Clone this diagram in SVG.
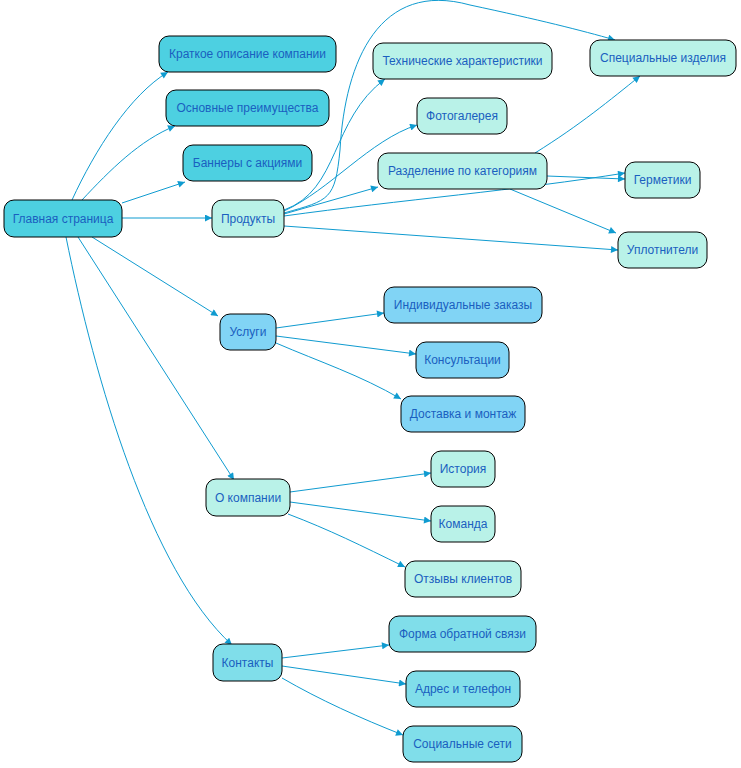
<svg xmlns="http://www.w3.org/2000/svg" width="741" height="768" viewBox="0 0 741 768">
<defs>
<style>
.n rect{stroke:#000;stroke-width:1}
.n text{font-family:"Liberation Sans",Arial,sans-serif;font-size:12px;fill:#1a5fc0;text-anchor:middle;dominant-baseline:central}
.a rect{fill:#4dd0e1}.b rect{fill:#b9f2e8}.c rect{fill:#81d4f5}.d rect{fill:#80deea}
#edges path{fill:none;stroke:#0f9bd0;stroke-width:1;marker-end:url(#ar)}
</style>
<marker id="ar" viewBox="0 0 10 10" refX="10" refY="5" markerWidth="10" markerHeight="7" markerUnits="userSpaceOnUse" orient="auto"><path d="M0,0L10,5L0,10z" fill="#0f9bd0"/></marker>
</defs>
<rect width="741" height="768" fill="#fff"/>
<g id="edges">
<path d="M72,200 C95,150 130,95 168,72"/>
<path d="M82,200 C110,170 140,140 175,126"/>
<path d="M122,203 L185,182"/>
<path d="M122,218 L212,218"/>
<path d="M92,237 L218,316"/>
<path d="M78,237 L234,480"/>
<path d="M66,237 C95,380 150,570 232,645"/>
<path d="M284,213 C330,200 335,200 340,150 C345,60 380,-20 470,5 C540,20 580,30 615,40"/>
<path d="M284,210 C340,190 330,120 385,79"/>
<path d="M284,211 C330,190 370,140 417,125"/>
<path d="M284,214 L378,187"/>
<path d="M284,216 C400,200 520,190 625,173"/>
<path d="M284,226 L618,250"/>
<path d="M535,153 C580,125 610,100 640,76"/>
<path d="M547,176 L625,179"/>
<path d="M510,189 L616,233"/>
<path d="M276,328 L384,313"/>
<path d="M276,336 L416,354"/>
<path d="M276,343 C320,362 360,375 401,399"/>
<path d="M290,492 L431,473"/>
<path d="M290,502 L431,521"/>
<path d="M288,514 C330,530 360,545 405,567"/>
<path d="M282,658 L389,645"/>
<path d="M282,666 L406,684"/>
<path d="M282,678 C320,700 360,718 403,735"/>
</g>
<g id="n1" class="n a"><rect x="4" y="200" width="118" height="37" rx="10"/><text x="63" y="218.5">Главная страница</text></g>
<g id="n2" class="n a"><rect x="159" y="36" width="177" height="36" rx="10"/><text x="247.5" y="54">Краткое описание компании</text></g>
<g id="n3" class="n a"><rect x="166" y="90" width="163" height="36" rx="10"/><text x="247.5" y="108">Основные преимущества</text></g>
<g id="n4" class="n a"><rect x="183" y="145" width="129" height="36" rx="10"/><text x="247.5" y="163">Баннеры с акциями</text></g>
<g id="n5" class="n b"><rect x="212" y="200" width="72" height="37" rx="10"/><text x="248" y="218.5">Продукты</text></g>
<g id="n6" class="n c"><rect x="220" y="314" width="56" height="36" rx="10"/><text x="248" y="332">Услуги</text></g>
<g id="n7" class="n b"><rect x="206" y="479" width="84" height="37" rx="10"/><text x="248" y="497.5">О компании</text></g>
<g id="n8" class="n d"><rect x="213" y="644" width="69" height="37" rx="10"/><text x="247.5" y="662.5">Контакты</text></g>
<g id="n9" class="n b"><rect x="373" y="43" width="179" height="36" rx="10"/><text x="462.5" y="61">Технические характеристики</text></g>
<g id="n10" class="n b"><rect x="417" y="98" width="90" height="36" rx="10"/><text x="462" y="116">Фотогалерея</text></g>
<g id="n11" class="n b"><rect x="378" y="153" width="169" height="36" rx="10"/><text x="462.5" y="171">Разделение по категориям</text></g>
<g id="n12" class="n b"><rect x="590" y="40" width="146" height="36" rx="10"/><text x="663" y="58">Специальные изделия</text></g>
<g id="n13" class="n b"><rect x="625" y="162" width="75" height="36" rx="10"/><text x="662.5" y="180">Герметики</text></g>
<g id="n14" class="n b"><rect x="618" y="232" width="89" height="36" rx="10"/><text x="662.5" y="250">Уплотнители</text></g>
<g id="n15" class="n c"><rect x="384" y="287" width="158" height="36" rx="10"/><text x="463" y="305">Индивидуальные заказы</text></g>
<g id="n16" class="n c"><rect x="416" y="342" width="93" height="36" rx="10"/><text x="462.5" y="360">Консультации</text></g>
<g id="n17" class="n c"><rect x="401" y="396" width="124" height="36" rx="10"/><text x="463" y="414">Доставка и монтаж</text></g>
<g id="n18" class="n b"><rect x="431" y="451" width="64" height="36" rx="10"/><text x="463" y="469">История</text></g>
<g id="n19" class="n b"><rect x="431" y="506" width="64" height="36" rx="10"/><text x="463" y="524">Команда</text></g>
<g id="n20" class="n b"><rect x="405" y="561" width="116" height="36" rx="10"/><text x="463" y="579">Отзывы клиентов</text></g>
<g id="n21" class="n d"><rect x="389" y="616" width="147" height="36" rx="10"/><text x="462.5" y="634">Форма обратной связи</text></g>
<g id="n22" class="n d"><rect x="406" y="671" width="114" height="36" rx="10"/><text x="463" y="689">Адрес и телефон</text></g>
<g id="n23" class="n d"><rect x="403" y="726" width="119" height="36" rx="10"/><text x="462.5" y="744">Социальные сети</text></g>
</svg>
